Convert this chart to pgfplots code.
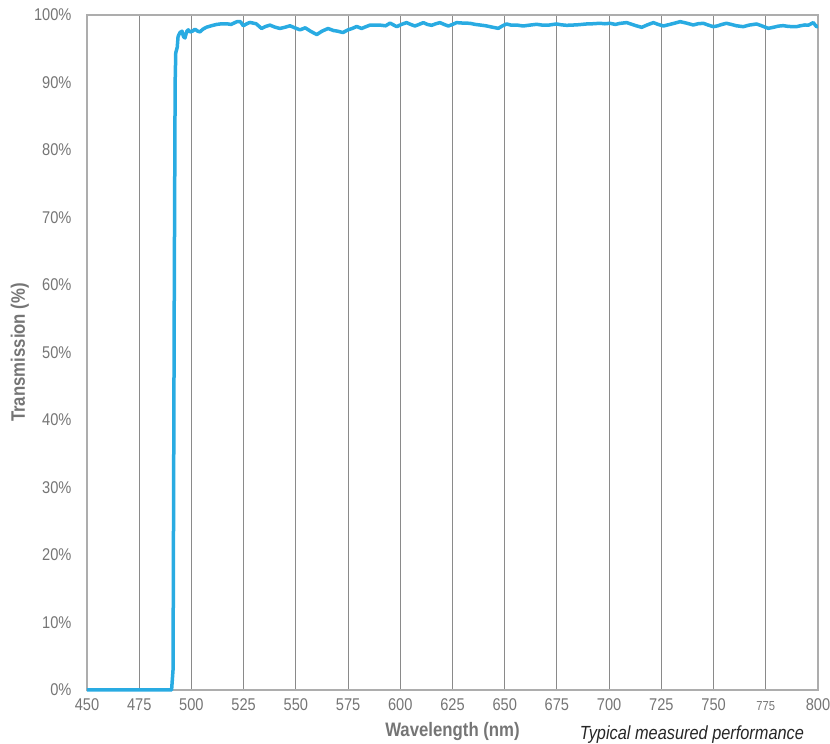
\documentclass[border=0pt]{standalone}
\usepackage{pgfplots}
\pgfplotsset{compat=1.18}
\usepackage{fontspec}
\setmainfont{Liberation Sans}[FakeStretch=0.86]
\definecolor{txt}{HTML}{757575}
\definecolor{curve}{HTML}{29ABE2}
\definecolor{gridc}{HTML}{8A8A8A}
\begin{document}
\begin{tikzpicture}
\begin{axis}[
  name=ax,
  scale only axis,
  width=731pt, height=675pt,
  xmin=450, xmax=800, ymin=0, ymax=100,
  xtick={450,475,...,800},
  xticklabels={450,475,500,525,550,575,600,625,650,675,700,725,750,{\fontsize{13}{15}\selectfont 775},800},
  ytick={0,10,...,100},
  yticklabel={\pgfmathprintnumber{\tick}\%},
  /pgf/number format/assume math mode=true,
  tick label style={font=\fontsize{17}{20}\selectfont, text=txt},
  xticklabel style={anchor=base, yshift=-21pt},
  yticklabel style={xshift=-12pt},
  major tick length=0pt,
  xmajorgrids, ymajorgrids=false,
  grid style={gridc, line width=0.9pt},
  axis line style={gridc!70, line width=1.2pt},
  xlabel={\textbf{Wavelength (nm)}},
  ylabel={\textbf{Transmission (\%)}},
  label style={font=\fontsize{19.5}{23}\selectfont, text=txt},
  xlabel style={at={(axis description cs:0.5,0)}, anchor=base, yshift=-47pt},
  ylabel style={at={(axis description cs:-0.092,0.5)}, anchor=center},
  clip=false,
]
\addplot[curve, line width=3.5pt, line join=round] coordinates {
(450,0) (470,0) (490.5,0) (491.2,3) (491.8,60) (492.2,90) (492.5,94.4) (493.2,95.2) (493.6,96.8)
(494.5,97.4) (495.5,97.6) (496.2,96.8) (496.9,96.6) (497.8,97.6) (498.5,97.8) (499.3,97.5)
(500.5,97.6) (501.7,97.9) (503,97.6) (504.1,97.5) (505.5,97.9) (507.3,98.2) (509.5,98.4)
(512.1,98.6) (514.5,98.7) (516.9,98.7) (519,98.6) (521.7,99.0) (523.5,99.0) (524.8,98.4)
(526.5,98.7) (528,98.9) (531,98.7) (533.6,98.0) (535.5,98.3) (537.6,98.5) (540,98.2)
(542.4,98.0) (545,98.2) (547.2,98.4) (549.5,98.1) (552,97.8) (554.5,98.1) (557,97.6)
(560,97.1) (562.5,97.6) (565.4,98.0) (568,97.7) (570,97.6) (572.5,97.4) (575,97.8)
(577,98.0) (579.1,98.3) (581.5,98.0) (583,98.2) (585.5,98.5) (588,98.5) (590.3,98.5)
(593,98.4) (595.1,98.8) (598.3,98.27) (600.5,98.6) (603,98.87) (605,98.6) (607,98.37)
(609,98.6) (611,98.87) (613,98.6) (615,98.47) (617,98.7) (619,98.87) (621,98.6) (623,98.37)
(625,98.6) (627,98.87) (630,98.8) (633.3,98.77) (636,98.6) (638.1,98.52) (641,98.4)
(644,98.2) (646.9,98.02) (649,98.4) (650.9,98.67) (653,98.5) (656,98.5) (658.8,98.37)
(662,98.5) (665.3,98.62) (668,98.5) (671,98.5) (674.8,98.67) (677,98.55) (679.6,98.47)
(682,98.5) (685,98.55) (689.2,98.67) (692,98.7) (695.6,98.77) (698,98.7) (700.4,98.77)
(703,98.6) (705,98.75) (708.4,98.87) (711,98.6) (713,98.4) (715.6,98.17) (718,98.5)
(721.2,98.87) (723.5,98.6) (726,98.37) (729,98.6) (731.5,98.8) (734,99.01) (737,98.8)
(740.3,98.52) (742.5,98.7) (745.1,98.77) (747.5,98.5) (749.9,98.27) (752,98.4) (754,98.6)
(756.2,98.77) (758.5,98.6) (761,98.4) (764.2,98.27) (767,98.5) (770.6,98.67) (773,98.4)
(776.2,98.02) (779,98.2) (781,98.35) (783.3,98.42) (786,98.3) (789.7,98.27) (791.5,98.4)
(793.7,98.52) (795.5,98.5) (797.7,98.87) (799.3,98.27) (800,98.3)
};
\end{axis}
\node[anchor=center, font=\fontsize{19}{22}\selectfont\itshape, text=black!85] at ([xshift=-126pt,yshift=-45pt]ax.south east) {Typical measured performance};
\pgfresetboundingbox
\path ([xshift=-87pt,yshift=-54pt]ax.south west) rectangle ([xshift=12pt,yshift=15pt]ax.north east);
\end{tikzpicture}
\end{document}
